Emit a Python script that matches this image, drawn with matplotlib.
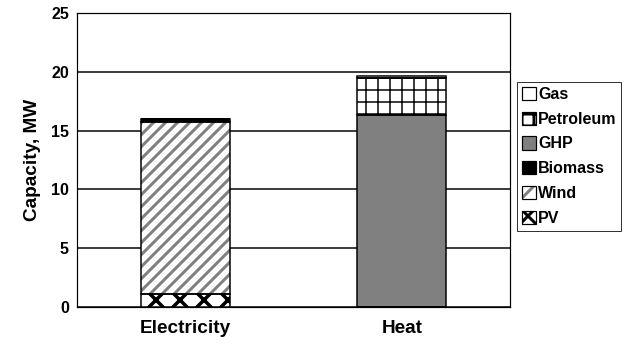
import matplotlib.pyplot as plt
from matplotlib.legend_handler import HandlerTuple
import numpy as np

plt.rcParams['font.family'] = ['Liberation Sans', 'DejaVu Sans']
plt.rcParams['font.weight'] = 'bold'
plt.rcParams['hatch.linewidth'] = 3.0

categories = ['Electricity', 'Heat']
pv = [1.1, 0.0]
wind = [14.65, 0.0]
biomass = [0.25, 0.0]
ghp = [0.0, 16.35]
petroleum = [0.0, 3.15]
gas = [0.0, 0.1]

# name, values, face colour, hatch, hatch colour, hatch width
layers = [
    ('PV', pv, 'white', 'x', 'black', 3.5),
    ('Wind', wind, 'white', '//', '#808080', 3.0),
    ('Biomass', biomass, 'black', '', 'black', 1.0),
    ('GHP', ghp, '#808080', '', '#808080', 1.0),
    ('Petroleum', petroleum, 'white', '+', 'black', 1.5),
    ('Gas', gas, 'white', '', 'white', 1.0),
]


def hatched(patch, hw):
    if hasattr(patch, 'set_hatch_linewidth'):
        patch.set_hatch_linewidth(hw)


fig = plt.figure(figsize=(626 / 72, 349 / 72), dpi=72)
ax = fig.add_axes([0.123, 0.12, 0.692, 0.843])

x = np.arange(len(categories))
width = 0.41
bottom = np.zeros(len(categories))
handles = []
for name, vals, face, hatch, hcol, hw in layers:
    vals = np.array(vals)
    bars = ax.bar(x, vals, width, bottom=bottom, color=face, edgecolor=hcol,
                  hatch=hatch, linewidth=0, zorder=3)
    for b in bars:
        hatched(b, hw)
    ax.bar(x, vals, width, bottom=bottom, fill=False, edgecolor='black',
           linewidth=1.5, zorder=4)
    bottom += vals
    fill = plt.Rectangle((0, 0), 1, 1, facecolor=face, edgecolor=hcol,
                         hatch=hatch.replace('//', '/'), linewidth=0)
    hatched(fill, hw)
    frame = plt.Rectangle((0, 0), 1, 1, fill=False, edgecolor='black',
                          linewidth=1.2)
    handles.append(((fill, frame), name))

ax.set_xlim(-0.5, 1.5)
ax.set_ylim(0, 25)
ax.set_yticks([0, 5, 10, 15, 20, 25])
ax.yaxis.grid(True, color='black', linewidth=1.5, zorder=0)
ax.set_axisbelow(True)
ax.tick_params(axis='both', length=0, labelsize=16, pad=8)
ax.set_xticks(x)
ax.set_xticklabels(categories, fontsize=19)
ax.tick_params(axis='x', pad=13)
ax.set_ylabel('Capacity, MW', fontsize=19, fontweight='bold', labelpad=10)
for s in ax.spines.values():
    s.set_linewidth(1.2)

hs = [h for h, n in handles][::-1]
ns = [n for h, n in handles][::-1]
leg = fig.legend(hs, ns, loc='upper left', bbox_to_anchor=(0.826, 0.765),
                 handler_map={tuple: HandlerTuple(ndivide=1, pad=0)},
                 fontsize=16, frameon=True, fancybox=False, edgecolor='black',
                 handlelength=0.9, handleheight=0.9, handletextpad=0.1,
                 labelspacing=0.6, borderpad=0.3, borderaxespad=0)
leg.get_frame().set_linewidth(1.0)

fig.savefig('out.png', dpi=72)
